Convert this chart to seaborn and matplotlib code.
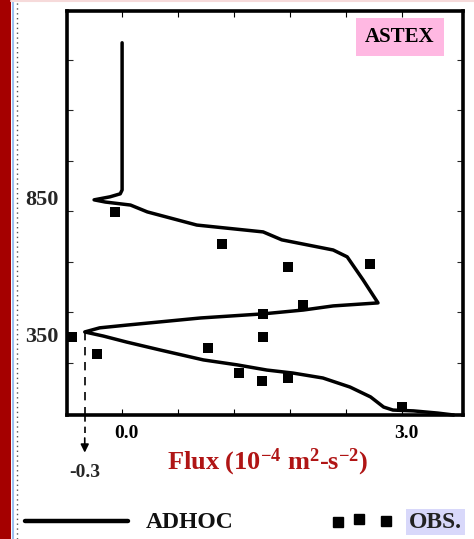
import numpy as np
import pandas as pd
import matplotlib
matplotlib.use("Agg")
import matplotlib.pyplot as plt
import matplotlib.transforms as mtransforms
from matplotlib.lines import Line2D
import seaborn as sns

# ---- data (flux in 1e-4 m2 s-2, height in m) ----
adhoc_flux = [0.0, 0.0, -0.02, -0.13, -0.30, -0.18, 0.09, 0.27, 0.80, 1.51, 1.71,
              2.26, 2.41, 2.58, 2.74, 2.26, 1.94, 1.51, 0.84, 0.05, -0.24, -0.40,
              -0.20, 0.05, 0.41, 0.87, 1.23, 1.55, 1.83, 2.15, 2.44, 2.66, 2.80,
              2.90, 3.12, 3.38, 3.55]
adhoc_height = [1416, 879, 865, 854, 843, 835, 824, 799, 751, 726, 697,
                660, 635, 551, 467, 456, 441, 427, 412, 386, 376, 361,
                346, 324, 295, 259, 241, 222, 211, 193, 160, 124, 87,
                76, 73, 65, 58]
obs_flux = [-0.08, 1.07, 1.78, 2.65, 1.94, 1.51, 1.51, 0.92, -0.27, -0.54,
            1.25, 1.50, 1.78, 3.00]
obs_height = [799, 682, 598, 609, 459, 427, 343, 302, 281, 343,
              211, 182, 193, 87]
xtick_vals = [0.0, 0.6, 1.2, 1.8, 2.4, 3.0]
xtick_labels = ["0.0", "", "", "", "", "3.0"]
ytick_vals = [350, 850]
ytick_labels = ["350", "850"]
minor_y = [248, 432, 617, 801, 986, 1170, 1355]
min_label = "-0.3"

df_line = pd.DataFrame({"flux": adhoc_flux, "height": adhoc_height})
df_obs = pd.DataFrame({"flux": obs_flux, "height": obs_height})

sns.set_style("white")
plt.rcParams["font.family"] = ["Liberation Serif", "DejaVu Serif"]
plt.rcParams["font.weight"] = "bold"
plt.rcParams["mathtext.fontset"] = "custom"
plt.rcParams["mathtext.bf"] = "Liberation Serif:bold"
plt.rcParams["mathtext.rm"] = "Liberation Serif:bold"
plt.rcParams["mathtext.it"] = "Liberation Serif:bold"
plt.rcParams["mathtext.default"] = "rm"

W, H = 474, 539
fig = plt.figure(figsize=(W / 100, H / 100), dpi=100)
ax = fig.add_axes([67 / W, 1 - 415 / H, (463 - 67) / W, (415 - 11) / H])

sns.lineplot(data=df_line, x="flux", y="height", sort=False, estimator=None,
             color="black", lw=2.5, ax=ax, clip_on=False)
sns.scatterplot(data=df_obs, x="flux", y="height", marker="s", s=60,
                color="black", edgecolor="black", linewidth=0, ax=ax,
                clip_on=False, zorder=5)

ax.set_xlim(-0.59, 3.65)
ax.set_ylim(58, 1532)
ax.set_xlabel("")
ax.set_ylabel("")
for sp in ax.spines.values():
    sp.set_visible(True)
    sp.set_color("black")
    sp.set_linewidth(2.6)

ax.set_xticks(xtick_vals)
ax.set_xticklabels(xtick_labels, fontsize=14, fontweight="bold")
ax.set_yticks(ytick_vals)
ax.set_yticklabels(ytick_labels, fontsize=16, fontweight="bold")
ax.set_yticks(minor_y, minor=True)
ax.tick_params(axis="x", which="major", direction="in", length=4, width=0.8,
               top=True, bottom=True, pad=7, colors="black")
ax.tick_params(axis="y", which="major", length=0, pad=6)
ax.tick_params(axis="y", which="minor", direction="in", length=4, width=0.8,
               left=True, right=True)
offset = mtransforms.ScaledTranslation(0.04, 0, fig.dpi_scale_trans)
for lab in ax.get_xticklabels():
    lab.set_transform(lab.get_transform() + offset)

# minimum annotation
imin = int(np.argmin(adhoc_flux))
xm, hm = adhoc_flux[imin], adhoc_height[imin]
blend = mtransforms.blended_transform_factory(ax.transData, ax.transAxes)
ax.plot([xm, xm], [hm, 58], color="black", lw=1.2, ls=(0, (5, 4)), clip_on=False)
ax.plot([xm, xm], [0, -0.045], color="black", lw=1.2, ls=(0, (4, 3)),
        transform=blend, clip_on=False)
ax.annotate("", xy=(xm, -0.1), xycoords=blend, xytext=(xm, -0.05),
            textcoords=blend,
            arrowprops=dict(arrowstyle="-|>", color="black", lw=1.2,
                            mutation_scale=12), annotation_clip=False)
ax.text(xm, -0.142, min_label, transform=blend, ha="center", va="center",
        fontsize=14, fontweight="bold")

# axis title
fig.text(268 / W, 1 - 462 / H, r"Flux (10$^{-4}$ m$^{2}$-s$^{-2}$)",
         ha="center", va="center", fontsize=19, fontweight="bold", color="#b01515")

# ASTEX label
fig.text(400 / W, 1 - 37 / H, "ASTEX", ha="center", va="center", fontsize=15,
         fontweight="bold", color="black",
         bbox=dict(boxstyle="square,pad=0.45", facecolor="#ffb8e2", edgecolor="none"))

# legend
fig.add_artist(Line2D([25 / W, 128 / W], [1 - 521 / H] * 2, color="black", lw=3.2))
fig.text(146 / W, 1 - 523 / H, "ADHOC", ha="left", va="center", fontsize=17,
         fontweight="bold", color="#111111")
fig.add_artist(Line2D([338 / W, 359 / W, 386 / W], [1 - 522 / H, 1 - 519 / H, 1 - 521 / H],
                      ls="none", marker="s", markersize=6.5, color="black"))
fig.text(409 / W, 1 - 522 / H, "OBS.", ha="left", va="center", fontsize=17,
         fontweight="bold", color="#222222",
         bbox=dict(boxstyle="square,pad=0.12", facecolor="#d8d8fa", edgecolor="none"))

# page decorations
fig.add_artist(plt.Rectangle((0, 0), 11 / W, 1, transform=fig.transFigure,
                             facecolor="#a50000", edgecolor="none"))
fig.add_artist(Line2D([13 / W, 13 / W], [0, 1], color="#9cc0f0", lw=1.5))
fig.add_artist(Line2D([16.5 / W, 16.5 / W], [0, 1], color="#555555", lw=1.0,
                      ls=(0, (1, 2.5))))
fig.add_artist(Line2D([11 / W, 1], [1 - 1 / H] * 2, color="#f6dada", lw=1.5))

fig.savefig("out.png", dpi=100)
